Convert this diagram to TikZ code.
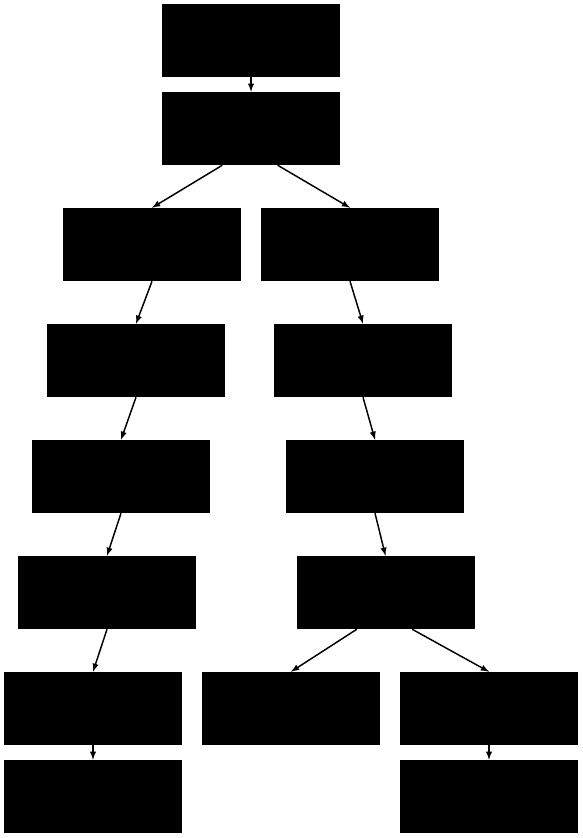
\documentclass[tikz,border=0pt]{standalone}
\usepackage{tikz}
\usetikzlibrary{arrows}
\begin{document}
\begin{tikzpicture}[x=0.75pt, y=0.75pt]
        \tikzstyle{every node} = [font=\footnotesize]
        \tikzstyle{cutie} = [fill=black, inner sep=0pt, minimum height=54.75pt, minimum width=133.5pt]
        \tikzstyle{sag}   = [draw, line width=1.1pt, -latex]

        \def\niva{-40.5}
        \def\nivb{-128.5}
        \def\nivc{-244.5}
        \def\nivd{-360.5}
        \def\nive{-476.5}
        \def\nivf{-592.5}
        \def\nivg{-708.5}
        \def\nivh{-796.5}

        \useasboundingbox (0,0) rectangle (582,-838);

        \node[cutie] (s1) at (251,\niva) {};
        \node[cutie] (s2) at (251,\nivb) {};

        \foreach[count=\c] \x/\y in {152/\nivc,136/\nivd,121/\nive,107/\nivf,93/\nivg,93/\nivh}
            \node[cutie] (l\c) at (\x,\y) {};

        \foreach[count=\c] \x/\y in {350/\nivc,363/\nivd,375/\nive,385.5/\nivf,489/\nivg,489/\nivh}
            \node[cutie] (r\c) at (\x,\y) {};

        \node[cutie] (m) at (291,\nivg) {};

        \draw[sag] (s1.south) -- (s2.north);
        \draw[sag] (s2.232) -- (l1.north);
        \draw[sag] (s2.306) -- (r1.north);

        \foreach \a/\b in {l1/l2,l2/l3,l3/l4,l4/l5,l5/l6,r1/r2,r2/r3,r3/r4,r5/r6}
            \draw[sag] (\a.south) -- (\b.north);

        \draw[sag] (r4.232) -- (m.north);
        \draw[sag] (r4.306) -- (r5.north);
    \end{tikzpicture}
\end{document}
